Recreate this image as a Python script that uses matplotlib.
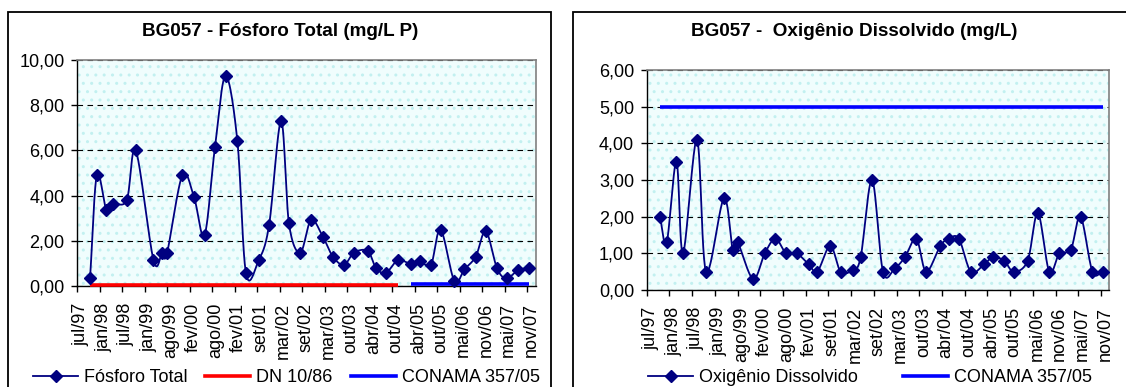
import numpy as np
import matplotlib
matplotlib.use("Agg")
import matplotlib.pyplot as plt
import matplotlib.dates as mdates
from matplotlib.lines import Line2D
from matplotlib.patches import Rectangle
from matplotlib.ticker import FuncFormatter, FixedLocator, NullLocator
from matplotlib.transforms import ScaledTranslation

plt.rcParams['font.family'] = ['Liberation Sans', 'DejaVu Sans']

# Sampling campaigns at station BG057
sample_dates = [
    "1997-10-28", "1997-12-24", "1998-03-15", "1998-05-09", "1998-09-02", "1998-11-17",
    "1999-04-15", "1999-06-27", "1999-08-07", "1999-12-14", "2000-03-21", "2000-06-18",
    "2000-09-14", "2000-12-12", "2001-03-22", "2001-06-02", "2001-09-18", "2001-12-14",
    "2002-03-25", "2002-05-30", "2002-09-02", "2002-12-02", "2003-03-12", "2003-06-04",
    "2003-09-06", "2003-11-27", "2004-03-23", "2004-06-03", "2004-08-26", "2004-12-04",
    "2005-03-24", "2005-06-08", "2005-09-07", "2005-11-27", "2006-03-23", "2006-06-16",
    "2006-09-19", "2006-12-13", "2007-03-18", "2007-06-07", "2007-09-14", "2007-12-09",
]

# Total phosphorus (mg/L P)
fosforo_total = [
    0.35, 4.90, 3.35, 3.65, 3.80, 6.00, 1.15, 1.45, 1.45, 4.90, 3.95, 2.25,
    6.15, 9.30, 6.40, 0.57, 1.15, 2.70, 7.30, 2.77, 1.47, 2.92, 2.18, 1.30,
    0.93, 1.47, 1.55, 0.78, 0.59, 1.15, 0.97, 1.10, 0.93, 2.50, 0.22, 0.74,
    1.30, 2.42, 0.78, 0.34, 0.72, 0.78,
]

# Dissolved oxygen (mg/L)
oxigenio_dissolvido = [
    2.00, 1.30, 3.50, 1.00, 4.10, 0.50, 2.50, 1.10, 1.30, 0.30, 1.00, 1.40,
    1.00, 1.00, 0.70, 0.50, 1.20, 0.50, 0.55, 0.90, 3.00, 0.50, 0.60, 0.90,
    1.40, 0.50, 1.20, 1.40, 1.40, 0.50, 0.70, 0.90, 0.80, 0.50, 0.80, 2.10,
    0.50, 1.00, 1.10, 2.00, 0.50, 0.50,
]

# Class 2 limits
limite_dn_10_86_p = 0.025
limite_conama_p = 0.1
limite_conama_od = 5.0
inicio_conama = "2005-03-17"

tick_labels = [
    "jul/97", "jan/98", "jul/98", "jan/99", "ago/99", "fev/00", "ago/00",
    "fev/01", "set/01", "mar/02", "set/02", "mar/03", "out/03", "abr/04",
    "out/04", "abr/05", "out/05", "mai/06", "nov/06", "mai/07", "nov/07",
]
tick_origin = "1997-07-10"
tick_step_days = 189.5

W, H = 1126, 387
fig = plt.figure(figsize=(W / 100, H / 100), dpi=100)


def fx(px):
    return px / W


def fy(py):
    return 1 - py / H


def smooth(x, y, n=24):
    """Catmull-Rom curve through the points (Excel-like smoothed line)."""
    x = np.asarray(x, float)
    y = np.asarray(y, float)
    px = np.concatenate([[2 * x[0] - x[1]], x, [2 * x[-1] - x[-2]]])
    py = np.concatenate([[2 * y[0] - y[1]], y, [2 * y[-1] - y[-2]]])
    t = np.linspace(0, 1, n, endpoint=False)
    t2, t3 = t * t, t * t * t
    ox, oy = [], []
    for i in range(1, len(px) - 2):
        for arr, out in ((px, ox), (py, oy)):
            p0, p1, p2, p3 = arr[i - 1], arr[i], arr[i + 1], arr[i + 2]
            out.append(0.5 * ((2 * p1) + (-p0 + p2) * t
                              + (2 * p0 - 5 * p1 + 4 * p2 - p3) * t2
                              + (-p0 + 3 * p1 - 3 * p2 + p3) * t3))
    return np.concatenate(ox + [[x[-1]]]), np.concatenate(oy + [[y[-1]]])


NAVY = "#000080"
xd = mdates.datestr2num(sample_dates)
x0 = mdates.datestr2num(tick_origin)
tick_pos = x0 + tick_step_days * np.arange(len(tick_labels))
conama_start = mdates.datestr2num(inicio_conama)
before = xd < conama_start
after = ~before

comma = FuncFormatter(lambda v, p: f"{v:.2f}".replace(".", ","))
FS = 13


def setup_axes(rect, ymax, ystep, xspan):
    ax = fig.add_axes(rect)
    ax.set_facecolor("#F0FDFD")
    ax.add_patch(Rectangle((0, 0), 1, 1, transform=ax.transAxes, facecolor="none",
                           edgecolor="#C2F0F0", lw=0, hatch="..", zorder=0))
    ax.set_xlim(x0, x0 + tick_step_days * xspan)
    ax.set_ylim(0, ymax)
    ax.yaxis.set_major_locator(FixedLocator(np.arange(0, ymax + 1e-9, ystep)))
    ax.yaxis.set_major_formatter(comma)
    ax.xaxis.set_major_locator(FixedLocator(tick_pos))
    ax.xaxis.set_minor_locator(NullLocator())
    ax.set_xticklabels(tick_labels, rotation=90, ha="center", va="top")
    ax.tick_params(axis="both", labelsize=FS, length=4, width=1, direction="out", color="black")
    ax.tick_params(axis="y", pad=5)
    ax.tick_params(axis="x", pad=8)
    shift = ScaledTranslation(4 / 100, 0, fig.dpi_scale_trans)
    for lab in ax.get_xticklabels():
        lab.set_transform(lab.get_transform() + shift)
    ax.yaxis.grid(True, linestyle=(0, (5, 4)), color="black", lw=0.8)
    ax.set_axisbelow(True)
    for side in ("top", "right"):
        ax.spines[side].set_color("#808080")
        ax.spines[side].set_linewidth(1.2)
    for side in ("left", "bottom"):
        ax.spines[side].set_color("black")
        ax.spines[side].set_linewidth(1.0)
    return ax


def draw_series(ax, values):
    sx, sy = smooth(xd, values)
    ax.plot(sx, sy, color=NAVY, lw=1.3, zorder=4, clip_on=False)
    ax.plot(xd, values, ls="none", marker="D", ms=6, color=NAVY, zorder=5, clip_on=False)


# Chart frames
for (a, b) in ((8, 551), (573, 1135)):
    fig.patches.append(Rectangle((fx(a), -0.05), fx(b) - fx(a), fy(12) + 0.05,
                                 transform=fig.transFigure, facecolor="none",
                                 edgecolor="black", lw=1.3))

# Left chart: total phosphorus
ax1 = setup_axes([fx(77), fy(286), fx(536) - fx(77), (286 - 60) / H], 10, 2, 20.4)
ax1.plot(xd[before][[0, -1]], [limite_dn_10_86_p] * 2, color="#FF0000", lw=2.6, zorder=3.5,
         clip_on=False, solid_capstyle="butt")
ax1.plot(xd[after][[0, -1]], [limite_conama_p] * 2, color="#0000FF", lw=2.6, zorder=3.5,
         clip_on=False, solid_capstyle="butt")
draw_series(ax1, fosforo_total)
fig.text(fx(280), fy(31), "BG057 - Fósforo Total (mg/L P)", ha="center", va="center",
         fontsize=13.6, fontweight="bold")

# Right chart: dissolved oxygen
ax2 = setup_axes([fx(646.7), fy(290), fx(1109) - fx(646.7), (290 - 70) / H], 6, 1, 20.35)
ax2.plot(xd[[0, -1]], [limite_conama_od] * 2, color="#0000FF", lw=2.6, zorder=3.5,
         solid_capstyle="butt")
draw_series(ax2, oxigenio_dissolvido)
fig.text(fx(854), fy(31), "BG057 -  Oxigênio Dissolvido (mg/L)", ha="center", va="center",
         fontsize=13.6, fontweight="bold")

# Legend entries, one per series, laid out along the bottom of each chart
serie = dict(color=NAVY, lw=1.3, marker="D", ms=6)
leg_kw = dict(loc="center left", frameon=False, fontsize=FS, handlelength=2.5,
              handletextpad=0.35, borderpad=0, borderaxespad=0)
entries = [
    (Line2D([], [], **serie), "Fósforo Total", 33),
    (Line2D([], [], color="#FF0000", lw=2.6), "DN 10/86", 205),
    (Line2D([], [], color="#0000FF", lw=2.6), "CONAMA 357/05", 351),
    (Line2D([], [], **serie), "Oxigênio Dissolvido", 648),
    (Line2D([], [], color="#0000FF", lw=2.6), "CONAMA 357/05", 903),
]
for handle, label, left in entries:
    fig.legend([handle], [label], bbox_to_anchor=(fx(left), fy(378)), **leg_kw)

fig.savefig("out.png", dpi=100)
